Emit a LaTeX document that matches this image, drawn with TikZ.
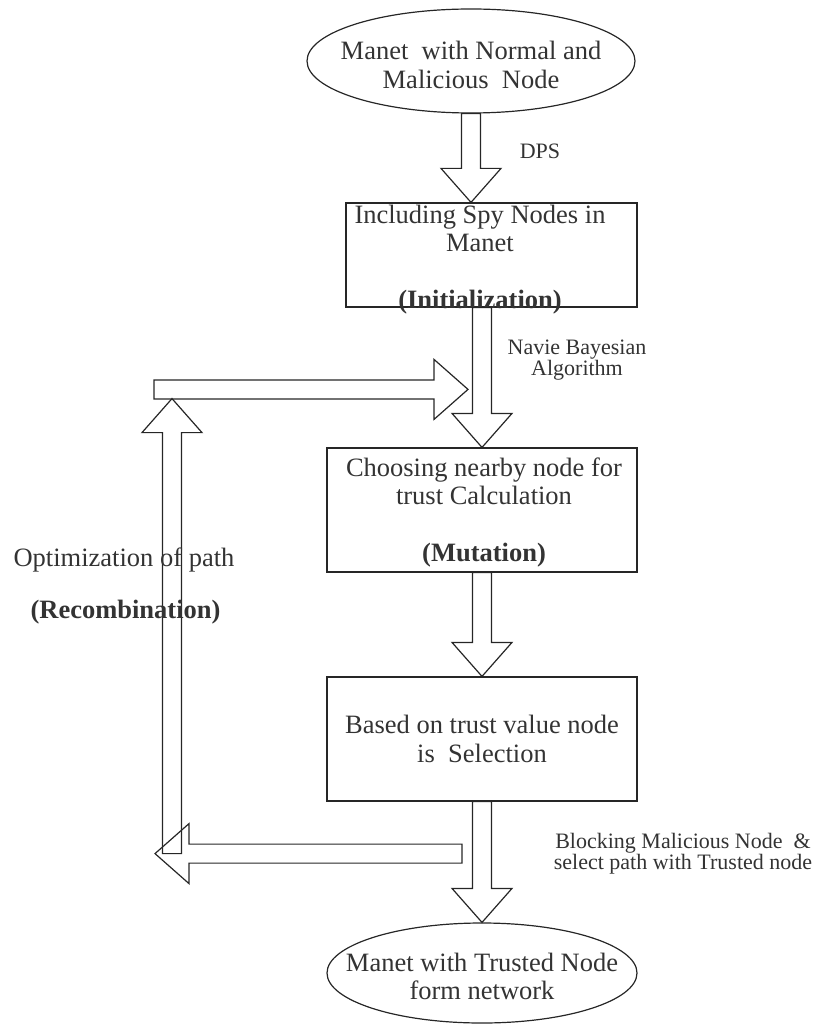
\documentclass[tikz,border=0pt]{standalone}
\usepackage{fontspec}
\setmainfont{Liberation Serif}
\usetikzlibrary{shapes,positioning,calc}
\tikzstyle{block} = [rectangle, draw=black!85, line width=1.2pt, inner sep=0pt]
\tikzstyle{oval} = [ellipse, draw=black!85, line width=1.2pt, inner sep=0pt]
\tikzstyle{boxtext} = [align=center, inner sep=0pt, text=black!80, font=\fontsize{26.5}{28.5}\selectfont]
\tikzstyle{note} = [align=center, inner sep=0pt, text=black!80, font=\fontsize{22}{21.5}\selectfont]
\tikzstyle{hollow} = [draw=black!85, line width=1.2pt, line join=miter]

% hollow block arrow from #1 to #2
\newcommand{\blockarrow}[2]{%
  \path ($(#2)!34pt!(#1)$) coordinate (head);
  \draw[hollow] ($(#1)!9.5pt!90:(#2)$) -- ($(head)!9.5pt!90:(#2)$)
    -- ($(head)!30pt!90:(#2)$) -- (#2) -- ($(head)!30pt!-90:(#2)$)
    -- ($(head)!9.5pt!-90:(#2)$) -- ($(#1)!9.5pt!-90:(#2)$) -- cycle;}

\begin{document}
\begin{tikzpicture}[x=1pt, y=1pt]
    \useasboundingbox (0,0) rectangle (821,-1024);

    \node[block, minimum width=310pt, minimum height=124pt] (choose) at (482,-510) {};
    \node[block, minimum width=310pt, minimum height=124pt, below of=choose, node distance=229pt] (select) {};
    \node[oval, minimum width=310pt, minimum height=100pt, below of=select, node distance=234pt] (trusted) {};
    \node[block, minimum width=291pt, minimum height=104pt, above of=choose, node distance=255pt, xshift=9.5pt] (spy) {};
    \node[oval, minimum width=328pt, minimum height=104pt, above of=spy, node distance=194pt, xshift=-20.5pt] (manet) {};

    % texts
    \node[boxtext] (manettext) at ($(manet)+(0,-4)$) {Manet~ with Normal and\\Malicious~ Node};
    \node[boxtext] (spytext) at ($(spy)+(-11.5,-4.5)$) {Including Spy Nodes in\\Manet\\[28.5pt]\textbf{(Initialization)}};
    \node[boxtext] (choosetext) at ($(choose)+(2,-2.5)$) {Choosing nearby node for\\trust Calculation\\[28.5pt]\textbf{(Mutation)}};
    \node[boxtext] (selecttext) at (select) {Based on trust value node\\is~ Selection};
    \node[boxtext] (trustedtext) at ($(trusted)+(0,-3.5)$) {Manet with Trusted Node\\form network};

    % main path
    \coordinate (spyin) at (manet.south |- spy.north);
    \coordinate (spyout) at (choose.north |- spy.south);
    \blockarrow{manet.south}{spyin}
    \blockarrow{spyout}{choose.north}
    \blockarrow{choose.south}{select.north}
    \blockarrow{select.south}{trusted.north}
    \node[note] (dps) at ($(manet.south)+(69,-38)$) {DPS};
    \node[note] (bayes) at ($(spy.south)+(85.5,-52.5)$) {Navie Bayesian\\Algorithm};
    \node[note] (blocking) at ($(select.south)+(201,-52)$) {Blocking Malicious Node~ \&\\select path with Trusted node};

    % feedback loop
    \coordinate (backstart) at ($(select.south)+(-20,-52)$);
    \coordinate (backend) at ($(backstart)+(-307,0)$);
    \coordinate (upstart) at ($(backend)+(17,0)$);
    \coordinate (upend) at ($(upstart)+(0,455)$);
    \coordinate (fwdend) at ($(choose.north)+(-14,58)$);
    \coordinate (fwdstart) at ($(upend |- fwdend)+(-18,0)$);
    \blockarrow{backstart}{backend}
    \blockarrow{upstart}{upend}
    \blockarrow{fwdstart}{fwdend}
    \node[boxtext] (optim) at ($(upstart)!0.5!(upend)+(-48,66.5)$) {Optimization of path};
    \node[boxtext] (recomb) at ($(upstart)!0.5!(upend)+(-46.5,13.5)$) {\textbf{(Recombination)}};
\end{tikzpicture}
\end{document}
